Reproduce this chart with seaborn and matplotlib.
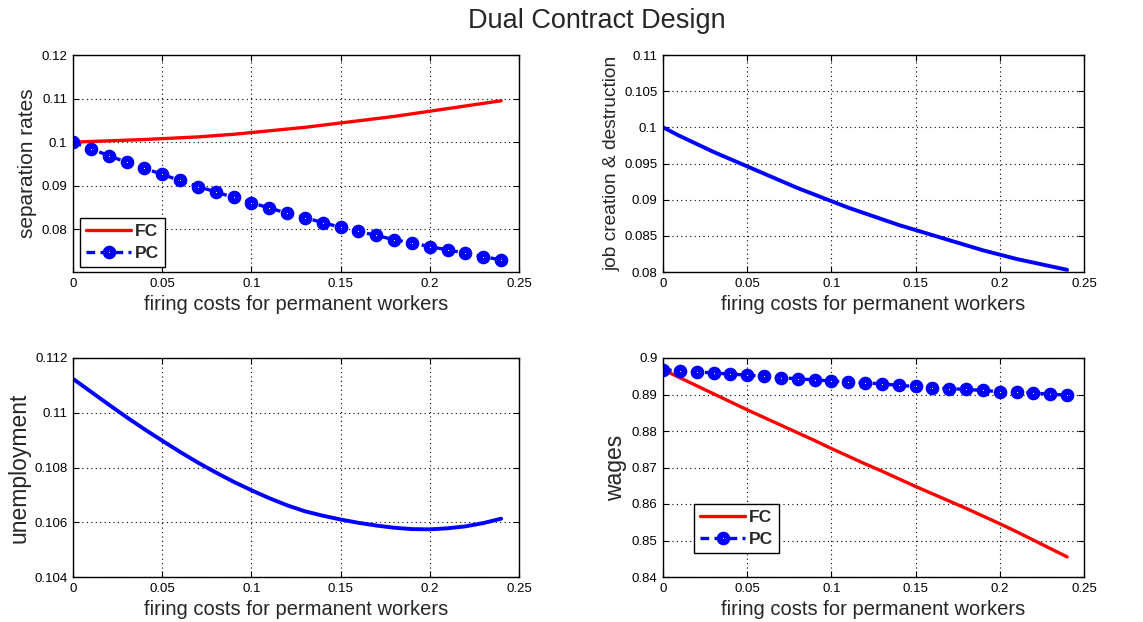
import numpy as np
import pandas as pd
import matplotlib
matplotlib.use("Agg")
import matplotlib.pyplot as plt
import seaborn as sns

# ---- data ----
firing_costs = [0.00, 0.01, 0.02, 0.03, 0.04, 0.05, 0.06, 0.07, 0.08, 0.09, 0.10, 0.11, 0.12,
                0.13, 0.14, 0.15, 0.16, 0.17, 0.18, 0.19, 0.20, 0.21, 0.22, 0.23, 0.24]

sep_fc = [0.1000, 0.10015, 0.1003, 0.10045, 0.1006, 0.1008, 0.1010, 0.1012, 0.1015, 0.1018,
          0.1022, 0.1026, 0.1030, 0.1034, 0.1039, 0.1044, 0.1049, 0.1054, 0.1059, 0.1065,
          0.1071, 0.1077, 0.1083, 0.1089, 0.1095]
sep_pc = [0.1000, 0.0985, 0.0969, 0.0954, 0.0940, 0.0926, 0.0912, 0.0898, 0.0886, 0.0873,
          0.0861, 0.0849, 0.0837, 0.0827, 0.0815, 0.0805, 0.0795, 0.0786, 0.0776, 0.0769,
          0.0760, 0.0753, 0.0745, 0.0737, 0.0730]

job_cd = [0.1000, 0.0988, 0.0977, 0.0966, 0.0956, 0.0946, 0.0936, 0.0926, 0.0916, 0.0907,
          0.0898, 0.0889, 0.0881, 0.0873, 0.0865, 0.0858, 0.0851, 0.0844, 0.0837, 0.0830,
          0.0824, 0.0818, 0.0813, 0.0808, 0.0803]

unemp = [0.11124, 0.11077, 0.11030, 0.10984, 0.10940, 0.10898, 0.10857, 0.10818, 0.10782,
         0.10748, 0.10717, 0.10688, 0.10662, 0.10640, 0.10624, 0.10610, 0.10598, 0.10588,
         0.10580, 0.10575, 0.10574, 0.10578, 0.10585, 0.10597, 0.10613]

wage_fc = [0.8968, 0.8946, 0.8924, 0.8902, 0.8880, 0.8858, 0.8837, 0.8816, 0.8795, 0.8774,
           0.8752, 0.8731, 0.8710, 0.8690, 0.8669, 0.8648, 0.8628, 0.8608, 0.8588, 0.8567,
           0.8546, 0.8524, 0.8501, 0.8478, 0.8455]
wage_pc = [0.8968, 0.8965, 0.8962, 0.8959, 0.8956, 0.8953, 0.8950, 0.8946, 0.8943, 0.8940,
           0.8937, 0.8934, 0.8932, 0.8929, 0.8925, 0.8922, 0.8919, 0.8916, 0.8914, 0.8911,
           0.8908, 0.8906, 0.8904, 0.8901, 0.8898]

xlabel_text = "firing costs for permanent workers"
title_text = "Dual Contract Design"

# ---- style ----
sns.set_style("ticks")
plt.rcParams['font.family'] = ['Liberation Sans', 'DejaVu Sans']

fig = plt.figure(figsize=(11.43, 6.22), dpi=100)
W, H = 1143, 622

def make_ax(left, top, right, bottom):
    return fig.add_axes([left / W, 1 - bottom / H, (right - left) / W, (bottom - top) / H])

ax1 = make_ax(73, 55, 519, 272)
ax2 = make_ax(663, 55, 1084, 272)
ax3 = make_ax(73, 358, 519, 577)
ax4 = make_ax(663, 358, 1084, 577)

RED = "#ff0000"
BLUE = "#0000ff"
LW = 2.4

def fc_line(ax, y, label=None):
    sns.lineplot(x=firing_costs, y=y, ax=ax, color=RED, linewidth=LW, label=label, legend=False)

def pc_line(ax, y, label=None):
    sns.lineplot(x=firing_costs, y=y, ax=ax, color=BLUE, linewidth=LW, label=label, legend=False,
                 linestyle=(0, (2.6, 1.6)), marker="o", markersize=5.4, markeredgewidth=4.4,
                 markerfacecolor="white", markeredgecolor=BLUE)

def blue_line(ax, y):
    sns.lineplot(x=firing_costs, y=y, ax=ax, color=BLUE, linewidth=LW + 0.4, legend=False)

fc_line(ax1, sep_fc, "FC")
pc_line(ax1, sep_pc, "PC")
blue_line(ax2, job_cd)
blue_line(ax3, unemp)
fc_line(ax4, wage_fc, "FC")
pc_line(ax4, wage_pc, "PC")

def style(ax, ylim, yticks, ylabel, ylabel_size):
    ax.set_xlim(0, 0.25)
    ax.set_xticks([0, 0.05, 0.1, 0.15, 0.2, 0.25])
    ax.set_xticklabels(["0", "0.05", "0.1", "0.15", "0.2", "0.25"])
    ax.set_ylim(*ylim)
    ax.set_yticks(yticks)
    ax.set_yticklabels([f"{t:g}" for t in yticks])
    ax.grid(True, color="black", linestyle=(0, (1, 3)), linewidth=0.8)
    for s in ax.spines.values():
        s.set_visible(True)
        s.set_color("black")
        s.set_linewidth(1.0)
    ax.tick_params(direction="in", top=True, right=True, length=4, width=0.8,
                   labelsize=9.5, colors="black", pad=4)
    ax.set_xlabel(xlabel_text, fontsize=14.5, labelpad=4)
    ax.set_ylabel(ylabel, fontsize=ylabel_size, labelpad=3)
    ax.set_facecolor("white")

style(ax1, (0.0702, 0.12), [0.08, 0.09, 0.10, 0.11, 0.12], "separation rates", 15)
style(ax2, (0.08, 0.11), [0.08, 0.085, 0.09, 0.095, 0.10, 0.105, 0.11], "job creation & destruction", 13.8)
style(ax3, (0.104, 0.112), [0.104, 0.106, 0.108, 0.11, 0.112], "unemployment", 16.5)
style(ax4, (0.84, 0.9), [0.84, 0.85, 0.86, 0.87, 0.88, 0.89, 0.9], "wages", 16.5)

for ax, loc in ((ax1, (0.016, 0.023)), (ax4, (0.074, 0.11))):
    leg = ax.legend(loc="lower left", bbox_to_anchor=loc, frameon=True, fancybox=False,
                    edgecolor="black", handlelength=2.6, handletextpad=0.2, borderaxespad=0,
                    borderpad=0.35, labelspacing=0.4, prop={"weight": "bold", "size": 12.5})
    leg.get_frame().set_linewidth(1.0)
    leg.get_frame().set_alpha(1)

fig.text(597 / W, 1 - 21 / H, title_text, ha="center", va="center", fontsize=19.5)

fig.savefig("out.png", dpi=100, facecolor="white")
